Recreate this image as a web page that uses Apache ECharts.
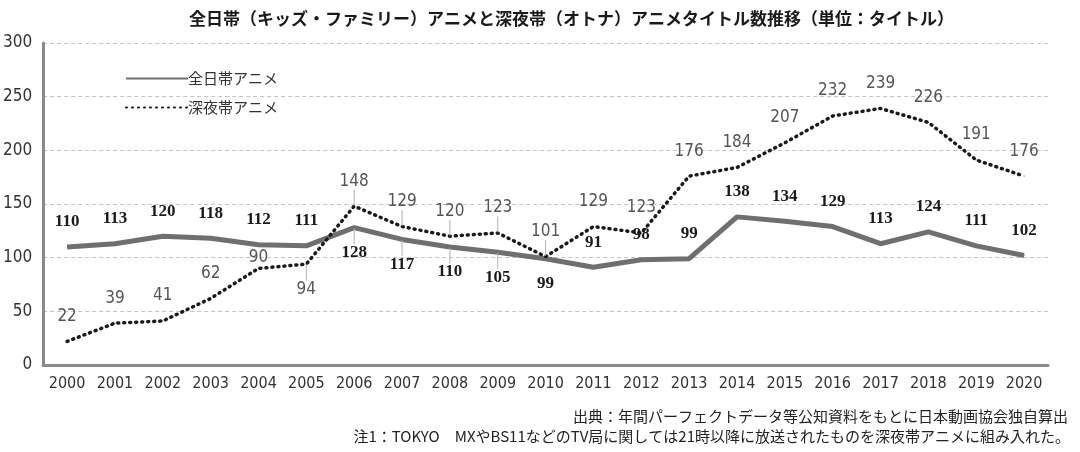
<!DOCTYPE html>
<html>
<head>
<meta charset="utf-8">
<script src="https://cdn.jsdelivr.net/npm/echarts@6/dist/echarts.min.js"></script>
<style>
  html, body { margin: 0; padding: 0; background: #fff; }
  #chart { width: 1080px; height: 452px; }
</style>
</head>
<body>
<div id="chart"></div>
<script>
// 年
const years = ['2000','2001','2002','2003','2004','2005','2006','2007','2008','2009','2010',
  '2011','2012','2013','2014','2015','2016','2017','2018','2019','2020'];
// 全日帯アニメ
const dayAnime = [110,113,120,118,112,111,128,117,110,105,99,91,98,99,138,134,129,113,124,111,102];
// 深夜帯アニメ
const nightAnime = [22,39,41,62,90,94,148,129,120,123,101,129,123,176,184,207,232,239,226,191,176];

// ラベルを線の下に置く年
const dayBelow = ['2006','2007','2008','2009','2010'];
const nightBelow = ['2005'];
// 引き出し線をつける年
const dayLeader = ['2006','2007','2008','2009'];
const nightLeader = ['2005','2006','2007','2008','2009','2010'];

const chart = echarts.init(document.getElementById('chart'));

function buildData(values, below, leader) {
  return values.map((v, i) => {
    const item = { value: v };
    if (below.indexOf(years[i]) >= 0) {
      item.label = { position: 'bottom' };
    }
    if (years[i] === '2004' && values === nightAnime) {
      item.label = { distance: 2, offset: [-4, 0] };
    }
    item.labelLine = { show: leader.indexOf(years[i]) >= 0 };
    return item;
  });
}

function leaderLayout(leader) {
  return function (p) {
    if (leader.indexOf(years[p.dataIndex]) >= 0) {
      return { dy: 0 };
    }
    return null;
  };
}

const condensed = '"Liberation Sans Narrow", "DejaVu Sans Condensed", "Noto Sans CJK JP", sans-serif';

const option = {
  backgroundColor: '#ffffff',
  animation: false,
  title: {
    text: '全日帯（キッズ・ファミリー）アニメと深夜帯（オトナ）アニメタイトル数推移（単位：タイトル）',
    left: 184,
    top: 5,
    textStyle: {
      fontFamily: '"Noto Sans CJK JP", sans-serif',
      fontSize: 17,
      fontWeight: 'bold',
      color: '#1a1a1a'
    }
  },
  legend: {
    orient: 'vertical',
    left: 120,
    top: 66,
    itemWidth: 62,
    itemHeight: 14,
    itemGap: 14,
    itemStyle: { opacity: 0 },
    textStyle: {
      fontFamily: '"Noto Sans CJK JP", sans-serif',
      fontSize: 15,
      color: '#333',
      padding: [0, 0, 0, -5]
    },
    data: ['全日帯アニメ', '深夜帯アニメ']
  },
  grid: { left: 42, right: 32, top: 43, bottom: 87 },
  xAxis: {
    type: 'category',
    data: years,
    boundaryGap: true,
    axisLine: { lineStyle: { color: '#8a8a8a', width: 3 } },
    axisTick: { inside: true, length: 7, lineStyle: { color: '#8a8a8a', width: 2 } },
    axisLabel: { fontFamily: condensed, fontSize: 16, color: '#333', margin: 11 }
  },
  yAxis: {
    type: 'value',
    min: 0,
    max: 300,
    interval: 50,
    axisLine: { show: true, lineStyle: { color: '#8a8a8a', width: 3 } },
    axisTick: { show: false },
    axisLabel: { fontFamily: condensed, fontSize: 17, color: '#333', margin: 11 },
    splitLine: { lineStyle: { color: '#c4c4c4', type: [4, 3], width: 1 } }
  },
  series: [
    {
      name: '全日帯アニメ',
      type: 'line',
      data: buildData(dayAnime, dayBelow, dayLeader),
      symbol: 'circle',
      symbolSize: 1,
      showSymbol: true,
      itemStyle: { color: '#6f6f6f' },
      lineStyle: { color: '#6f6f6f', width: 5 },
      z: 3,
      label: {
        show: true,
        position: 'top',
        distance: 16,
        fontFamily: '"Liberation Serif", "DejaVu Serif", serif',
        fontWeight: 'bold',
        fontSize: 17,
        color: '#1a1a1a'
      },
      labelLine: { show: false, lineStyle: { color: '#b0b0b0', width: 1 } },
      labelLayout: leaderLayout(dayLeader)
    },
    {
      name: '深夜帯アニメ',
      type: 'line',
      data: buildData(nightAnime, nightBelow, nightLeader),
      symbol: 'circle',
      symbolSize: 1,
      showSymbol: true,
      itemStyle: { color: '#1a1a1a' },
      lineStyle: { color: '#1a1a1a', width: 3.5, type: [1, 5], cap: 'round' },
      z: 4,
      label: {
        show: true,
        position: 'top',
        distance: 16,
        fontFamily: condensed,
        fontSize: 17,
        color: '#555'
      },
      labelLine: { show: false, lineStyle: { color: '#b0b0b0', width: 1 } },
      labelLayout: leaderLayout(nightLeader)
    }
  ],
  graphic: [
    {
      type: 'text',
      right: 12,
      top: 409,
      style: {
        text: '出典：年間パーフェクトデータ等公知資料をもとに日本動画協会独自算出',
        font: '15px "Noto Sans CJK JP", sans-serif',
        fill: '#222'
      }
    },
    {
      type: 'text',
      right: 10,
      top: 429,
      style: {
        text: '注1：TOKYO　MXやBS11などのTV局に関しては21時以降に放送されたものを深夜帯アニメに組み入れた。',
        font: '15px "Noto Sans CJK JP", sans-serif',
        fill: '#222'
      }
    }
  ]
};

chart.setOption(option);
</script>
</body>
</html>
